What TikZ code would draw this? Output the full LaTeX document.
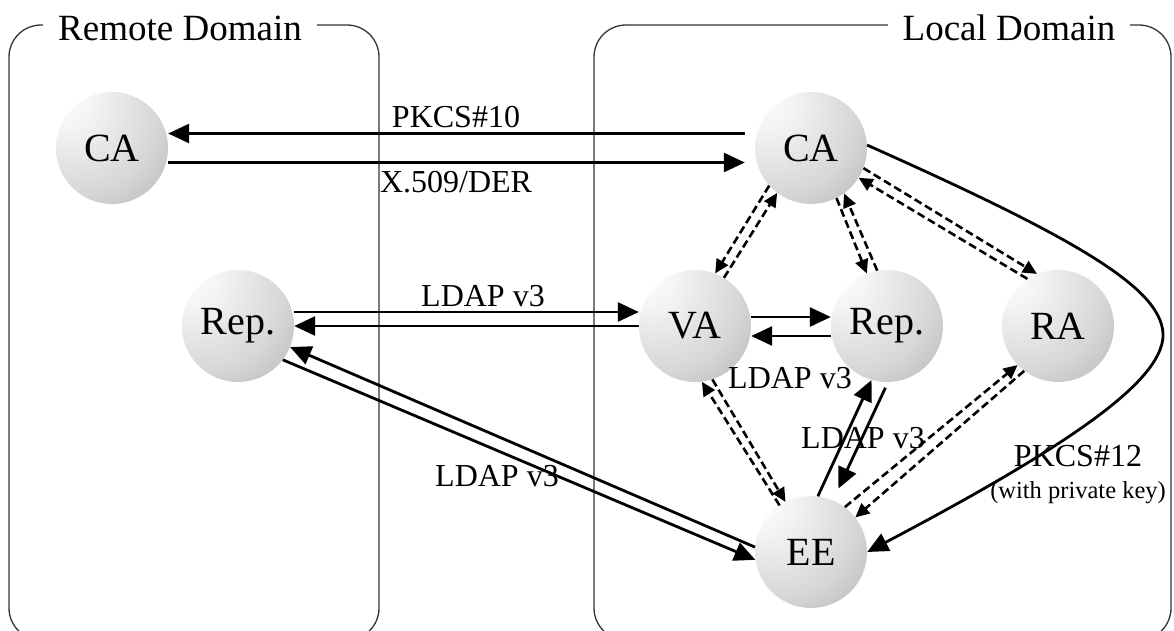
\documentclass[tikz,border=0pt]{standalone}
\usepackage{fontspec}
\setmainfont{Liberation Serif}
\usetikzlibrary{arrows.meta}
\pgfdeclareradialshading{sphere}{\pgfpoint{-25bp}{25bp}}{color(0bp)=(white); color(12bp)=(black!4); color(35bp)=(black!16); color(60bp)=(black!36); color(85bp)=(black!58)}

\begin{document}
\begin{tikzpicture}[x=1pt,y=-1pt,
  ent/.style={circle,minimum size=112pt,inner sep=0pt,shading=sphere,font=\fontsize{40}{44}\selectfont},
  lbl/.style={anchor=base,inner sep=0pt,font=\fontsize{32}{36}\selectfont},
  dombox/.style={draw=black!80,line width=1.3pt,rounded corners=32pt},
  dtitle/.style={anchor=base,fill=white,inner xsep=15pt,inner ysep=0pt,font=\fontsize{37}{40}\selectfont},
  msg/.style={line width=2.8pt,-{Triangle[length=21pt,width=19pt]}},
  ref/.style={line width=2.6pt,dash pattern=on 8pt off 4pt,-{Triangle[length=14pt,width=13pt]}}]
\useasboundingbox (0,0) rectangle (1174,630);
\clip (0,0) rectangle (1174,630);
\draw[dombox] (9,25) rectangle (379,640);
\draw[dombox] (594,25) rectangle (1171,640);
\node[dtitle] (remtitle) at (180,40) {Remote Domain};
\node[dtitle] (loctitle) at (1009,40) {Local Domain};
\node[ent] (rCA) at (112,148) {CA};
\node[ent] (rRep) at (238,326) {Rep.};
\node[ent] (lCA) at (811,148) {CA};
\node[ent] (VA) at (695,326) {VA};
\node[ent] (lRep) at (887,326) {Rep.};
\node[ent] (RA) at (1058,326) {RA};
\node[ent] (EE) at (811,552) {EE};
\draw[msg,shorten <=10pt] ([yshift=14.5pt]lCA.west) -- ([yshift=14.5pt]rCA.east);
\draw[msg,shorten >=10pt] ([yshift=-14.5pt]rCA.east) -- ([yshift=-14.5pt]lCA.west);
\draw[msg] ([yshift=14pt]rRep.east) -- ([yshift=14pt]VA.west);
\draw[msg] ([yshift=9pt]VA.east) -- ([yshift=9pt]lRep.west);
\draw[msg] ([yshift=-10pt]lRep.west) -- ([yshift=-10pt]VA.east);
\draw[msg,shorten <=6pt,shorten >=13pt] (lRep.-89) -- (EE.67);
\foreach \a/\b in {VA.west/rRep.east,EE.175/rRep.-22,rRep.-37/EE.188,EE.83/lRep.-106} \draw[msg] (\a) -- (\b);
\foreach \a/\b in {lCA.-138/VA.69,VA.59/lCA.-127,lCA.-63/lRep.111,lRep.100/lCA.-54,lCA.-21/RA.112,RA.123/lCA.-32,EE.124/VA.-83,VA.-72/EE.117,EE.53/RA.-136,RA.-127/EE.38} \draw[ref] (\a) -- (\b);
\coordinate (bend) at (1163,337);
\draw[msg] (lCA.3) .. controls (1080,240) and (1165,290) .. (bend) .. controls (1160,380) and (1080,440) .. (EE.east);
\node[lbl] (pkcs10) at (456,127) {PKCS\#10};
\node[lbl] (x509) at (456,192) {X.509/DER};
\node[lbl] (ldapa) at (483,306) {LDAP v3};
\node[lbl] (ldapb) at (790,388) {LDAP v3};
\node[lbl] (ldapc) at (497,486) {LDAP v3};
\node[lbl] (ldapd) at (863,448) {LDAP v3};
\node[lbl] (pkcs12) at (1078,466) {PKCS\#12};
\node[lbl,font=\fontsize{24.5}{28}\selectfont] (privkey) at (1078,498) {(with private key)};
\end{tikzpicture}
\end{document}
